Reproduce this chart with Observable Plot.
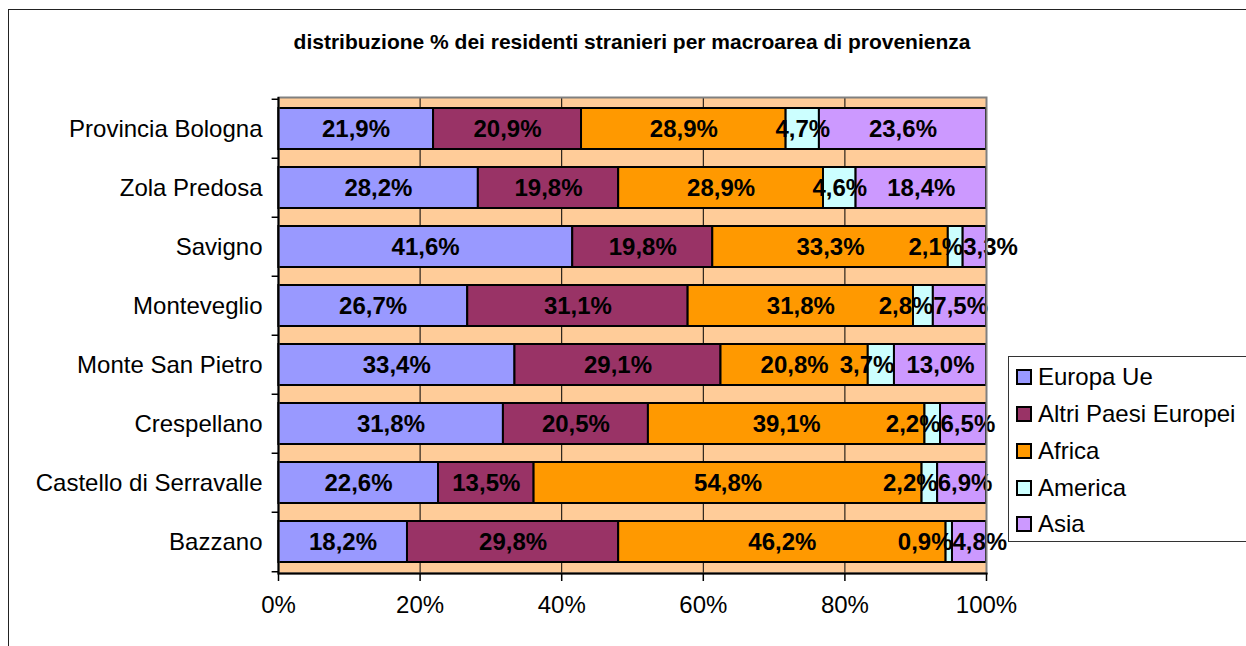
<!DOCTYPE html>
<html>
<head>
<meta charset="utf-8">
<script src="https://cdn.jsdelivr.net/npm/d3@7"></script>
<script src="https://cdn.jsdelivr.net/npm/@observablehq/plot@0.6"></script>
<style>
  html, body { margin: 0; padding: 0; background: white; }
  #wrap { position: relative; width: 1246px; height: 646px; overflow: hidden; font-family: Arial, "Liberation Sans", sans-serif; }
  #border { position: absolute; left: 8px; top: 9px; width: 1300px; height: 700px; border: 1px solid #222; box-sizing: border-box; }
  #title { position: absolute; left: 0; top: 30px; width: 1264px; text-align: center; font-weight: bold; font-size: 21px; color: black; }
  #chart { position: absolute; left: 0; top: 0; }
  #legend { position: absolute; left: 1008px; top: 356px; width: 260px; height: 186px; border: 1px solid #333; background: white; box-sizing: border-box; padding-top: 2px; }
  .item { display: flex; align-items: center; height: 36.75px; font-size: 24px; color: black; }
  .sw { width: 12px; height: 12px; border: 2px solid black; margin-left: 7px; margin-right: 6px; flex: none; }
</style>
</head>
<body>
<div id="wrap">
  <div id="border"></div>
  <div id="chart"></div>
  <div id="title">distribuzione % dei residenti stranieri per macroarea di provenienza</div>
  <div id="legend"></div>
</div>
<script>
const categories = ["Provincia Bologna", "Zola Predosa", "Savigno", "Monteveglio", "Monte San Pietro", "Crespellano", "Castello di Serravalle", "Bazzano"];
const series = ["Europa Ue", "Altri Paesi Europei", "Africa", "America", "Asia"];
const colors = ["#9999FF", "#993366", "#FF9900", "#CCFFFF", "#CC99FF"];
const europaUe = [21.9, 28.2, 41.6, 26.7, 33.4, 31.8, 22.6, 18.2];
const altriPaesiEuropei = [20.9, 19.8, 19.8, 31.1, 29.1, 20.5, 13.5, 29.8];
const africa = [28.9, 28.9, 33.3, 31.8, 20.8, 39.1, 54.8, 46.2];
const america = [4.7, 4.6, 2.1, 2.8, 3.7, 2.2, 2.2, 0.9];
const asia = [23.6, 18.4, 3.3, 7.5, 13.0, 6.5, 6.9, 4.8];
const xTicks = [0, 0.2, 0.4, 0.6, 0.8, 1];

const seriesValues = [europaUe, altriPaesiEuropei, africa, america, asia];
const rows = [];
categories.forEach((c, i) => {
  series.forEach((s, j) => rows.push({cat: c, series: s, value: seriesValues[j][i]}));
});
const fmt = v => v.toFixed(1).replace(".", ",") + "%";
const pct = d3.format(".0%");

// label placement like the original: small labels pushed away from each other
const smallAmerica = d => d.series === "America" && d.value < 4;
const smallAsia = d => d.series === "Asia" && d.value < 10;
const centered = d => !smallAmerica(d) && !smallAsia(d);

const H = 646, mTop = 97, mBottom = 73;
const step = (H - mTop - mBottom) / categories.length;
const stackOpts = {offset: "normalize", x: "value", y: "cat"};
const textStyle = {fill: "black", fontWeight: "bold", fontSize: 24};

const chart = Plot.plot({
  width: 1246,
  height: H,
  marginLeft: 278,
  marginRight: 260,
  marginTop: mTop,
  marginBottom: mBottom,
  style: {fontFamily: "Arial, 'Liberation Sans', sans-serif", background: "transparent", color: "black"},
  x: {domain: [0, 1], label: null},
  y: {domain: categories, paddingInner: 0.3, paddingOuter: 0.15, label: null},
  color: {domain: series, range: colors},
  marks: [
    Plot.frame({fill: "#FFCC99"}),
    Plot.ruleX(xTicks.slice(1, -1), {stroke: "black", strokeWidth: 1}),
    Plot.barX(rows, Plot.stackX({...stackOpts, fill: "series", stroke: "black", strokeWidth: 2})),
    Plot.textX(rows, Plot.stackX({...stackOpts, ...textStyle, text: d => centered(d) ? fmt(d.value) : null})),
    Plot.textX(rows, Plot.stackX2({...stackOpts, ...textStyle, textAnchor: "end", text: d => smallAmerica(d) ? fmt(d.value) : null})),
    Plot.textX(rows, Plot.stackX1({...stackOpts, ...textStyle, textAnchor: "start", text: d => smallAsia(d) ? fmt(d.value) : null})),
    Plot.frame({stroke: "#808080", strokeWidth: 2}),
    Plot.frame({anchor: "bottom", stroke: "black", strokeWidth: 2}),
    Plot.ruleX([0], {stroke: "black", strokeWidth: 2}),
    Plot.ruleY(categories, {y: d => d, x1: -0.009, x2: 0, dy: -step / 2, stroke: "black", strokeWidth: 1.5}),
    Plot.ruleY([categories[categories.length - 1]], {y: d => d, x1: -0.009, x2: 0, dy: step / 2, stroke: "black", strokeWidth: 1.5}),
    Plot.axisX({ticks: xTicks, tickFormat: pct, tickSize: 8, tickPadding: 14, fontSize: 24, stroke: "black", strokeWidth: 1.5, label: null}),
    Plot.axisY({tickSize: 0, tickPadding: 16, fontSize: 24, label: null})
  ]
});
document.getElementById("chart").appendChild(chart);

const legend = document.getElementById("legend");
series.forEach((s, i) => {
  const item = document.createElement("div");
  item.className = "item";
  const sw = document.createElement("div");
  sw.className = "sw";
  sw.style.background = colors[i];
  item.appendChild(sw);
  const t = document.createElement("span");
  t.textContent = s;
  item.appendChild(t);
  legend.appendChild(item);
});
</script>
</body>
</html>
